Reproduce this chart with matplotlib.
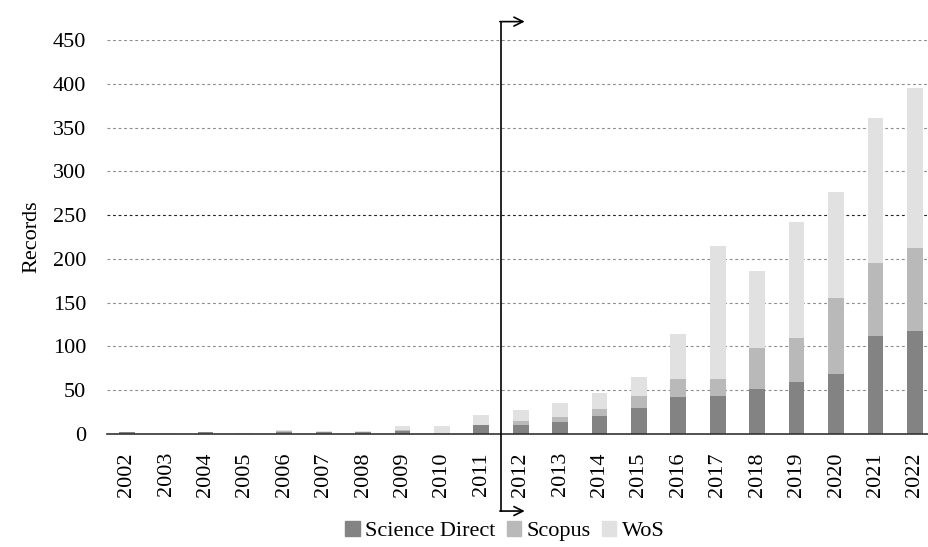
import matplotlib
matplotlib.use("Agg")
import matplotlib.pyplot as plt
import numpy as np
from matplotlib.patches import Patch

years = [str(y) for y in range(2002, 2023)]
science_direct = [2, 0, 2, 0, 2, 2, 2, 3, 0, 10, 10, 14, 21, 30, 42, 43, 51, 59, 69, 112, 118]
scopus = [0, 0, 0, 0, 1, 0, 0, 1, 0, 0, 5, 5, 8, 13, 21, 20, 47, 51, 86, 83, 94]
wos = [0, 1, 0, 1, 1, 1, 1, 5, 9, 12, 12, 16, 18, 22, 51, 152, 88, 132, 121, 166, 183]
y_ticks = [0, 50, 100, 150, 200, 250, 300, 350, 400, 450]

plt.rcParams['font.family'] = ['Liberation Serif', 'DejaVu Serif']

fig = plt.figure(figsize=(9.29, 5.47), dpi=100)
ax = fig.add_axes([107 / 929, 1 - 434 / 547, 822 / 929, 394 / 547])

x = np.arange(len(years))
sd = np.array(science_direct)
sc = np.array(scopus)
ws = np.array(wos)
w = 0.4
ax.bar(x, sd, w, color="#838383", label="Science Direct", zorder=2)
ax.bar(x, sc, w, bottom=sd, color="#b9b9b9", label="Scopus", zorder=2)
ax.bar(x, ws, w, bottom=sd + sc, color="#e1e1e1", label="WoS", zorder=2)

ax.set_xlim(-0.5, 20.36)
ax.set_ylim(0, 450)
ax.set_yticks(y_ticks)
ax.set_xticks(x)
ax.set_xticklabels(years, rotation=90, fontsize=16)
ax.tick_params(axis="y", labelsize=16, length=0, pad=15)
ax.tick_params(axis="x", length=0, pad=13)
for v in y_ticks[1:]:
    if v == 250:
        ax.axhline(v, color="#222222", lw=0.8, ls=(0, (2.5, 2.5)), zorder=1)
    else:
        ax.axhline(v, color="#8c8c8c", lw=0.8, ls=(0, (2.5, 2.5)), zorder=1)
for s in ["top", "right", "left"]:
    ax.spines[s].set_visible(False)
ax.spines["bottom"].set_color("#333333")
ax.spines["bottom"].set_linewidth(1.2)
ax.set_ylabel("Records", fontsize=16, labelpad=8)

# split marker between 2011 and 2012
ax.plot([9.5, 9.5], [-88, 471], color="black", lw=1.2, clip_on=False, zorder=3)
for yy in [471, -88]:
    ax.annotate("", xy=(10.1, yy), xytext=(9.47, yy),
                arrowprops=dict(arrowstyle="->", color="black", lw=1.2,
                                shrinkA=0, shrinkB=0, mutation_scale=16),
                annotation_clip=False)

handles = [Patch(color="#838383", label="Science Direct"),
           Patch(color="#b9b9b9", label="Scopus"),
           Patch(color="#e1e1e1", label="WoS")]
fig.legend(handles=handles, loc="center", bbox_to_anchor=(505 / 929, 1 - 531 / 547),
           ncol=3, frameon=False, fontsize=16, handlelength=0.65, handleheight=0.65,
           handletextpad=0.25, columnspacing=0.5, borderpad=0)

fig.savefig("out.png", dpi=100)
